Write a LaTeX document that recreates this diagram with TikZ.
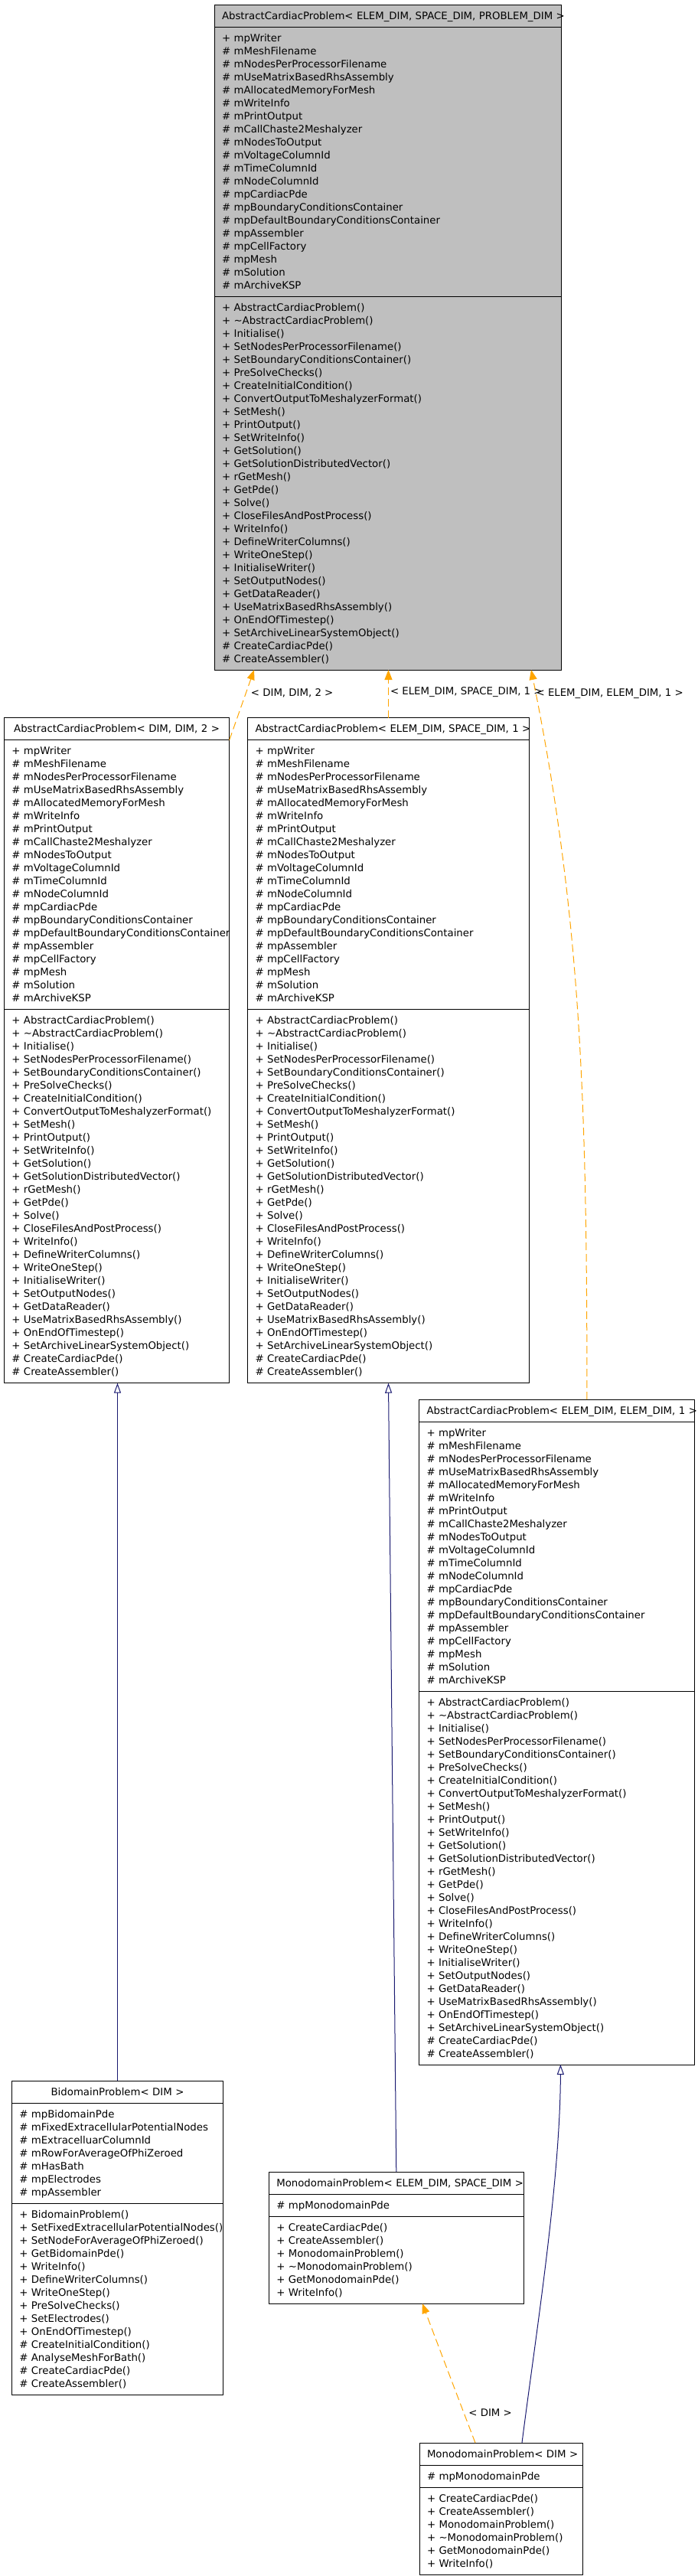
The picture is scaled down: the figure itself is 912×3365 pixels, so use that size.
\documentclass[tikz,border=0pt]{standalone}
\usepackage{fontspec}
\setmainfont{DejaVu Sans}
\usetikzlibrary{shapes.multipart, arrows.meta}

\definecolor{basegrey}{HTML}{BFBFBF}
\definecolor{tmplorange}{HTML}{FFA500}
\definecolor{inhnavy}{HTML}{191970}

\lefthyphenmin=62
\newcommand{\classfont}{\fontsize{13.3}{17}\selectfont}
\newcommand{\rowstrut}{\rule[-4pt]{0pt}{17pt}}
\newcommand{\classtitle}[1]{{\centering\rowstrut\mbox{#1}\par}}

% members shared by the four AbstractCardiacProblem boxes
\newcommand{\acpattrs}{\rowstrut+~mpWriter\\
\#~mMeshFilename\\
\#~mNodesPerProcessorFilename\\
\#~mUseMatrixBasedRhsAssembly\\
\#~mAllocatedMemoryForMesh\\
\#~mWriteInfo\\
\#~mPrintOutput\\
\#~mCallChaste2Meshalyzer\\
\#~mNodesToOutput\\
\#~mVoltageColumnId\\
\#~mTimeColumnId\\
\#~mNodeColumnId\\
\#~mpCardiacPde\\
\#~mpBoundaryConditionsContainer\\
\#~mpDefaultBoundaryConditionsContainer\\
\#~mpAssembler\\
\#~mpCellFactory\\
\#~mpMesh\\
\#~mSolution\\
\#~mArchiveKSP\rowstrut}
\newcommand{\acpops}{\rowstrut+~AbstractCardiacProblem()\\
+~\textasciitilde AbstractCardiacProblem()\\
+~Initialise()\\
+~SetNodesPerProcessorFilename()\\
+~SetBoundaryConditionsContainer()\\
+~PreSolveChecks()\\
+~CreateInitialCondition()\\
+~ConvertOutputToMeshalyzerFormat()\\
+~SetMesh()\\
+~PrintOutput()\\
+~SetWriteInfo()\\
+~GetSolution()\\
+~GetSolutionDistributedVector()\\
+~rGetMesh()\\
+~GetPde()\\
+~Solve()\\
+~CloseFilesAndPostProcess()\\
+~WriteInfo()\\
+~DefineWriterColumns()\\
+~WriteOneStep()\\
+~InitialiseWriter()\\
+~SetOutputNodes()\\
+~GetDataReader()\\
+~UseMatrixBasedRhsAssembly()\\
+~OnEndOfTimestep()\\
+~SetArchiveLinearSystemObject()\\
\#~CreateCardiacPde()\\
\#~CreateAssembler()\rowstrut}
% members shared by the two MonodomainProblem boxes
\newcommand{\monoattrs}{\rowstrut\#~mpMonodomainPde\rowstrut}
\newcommand{\monoops}{\rowstrut+~CreateCardiacPde()\\
+~CreateAssembler()\\
+~MonodomainProblem()\\
+~\textasciitilde MonodomainProblem()\\
+~GetMonodomainPde()\\
+~WriteInfo()\rowstrut}

\tikzset{
  classbox/.style={rectangle split, rectangle split parts=3, draw=black, line width=1pt,
    fill=white, inner xsep=10pt, inner ysep=5.5pt, outer sep=0pt, align=left,
    font=\classfont, anchor=north west},
  tmpl/.style={draw=tmplorange, line width=1pt, dash pattern=on 10pt off 5pt,
    -{Triangle[length=13pt,width=10pt]}},
  inherit/.style={draw=inhnavy, line width=1pt, -{Triangle[open,length=13pt,width=9pt]}},
  tmpllabel/.style={font=\classfont, anchor=west, inner sep=0pt, text=black}
}

\begin{document}
\begin{tikzpicture}[x=1pt, y=-1pt]
\useasboundingbox (0,0) rectangle (912,3365);

% classes
\node[classbox, fill=basegrey, text width=433pt] (acp) at (280,6)
  {\classtitle{AbstractCardiacProblem< ELEM\_DIM, SPACE\_DIM, PROBLEM\_DIM >}
   \nodepart{two}\acpattrs \nodepart{three}\acpops};
\node[classbox, text width=274.3pt] (acpDD2) at (5.4,937.7)
  {\classtitle{AbstractCardiacProblem< DIM, DIM, 2 >}
   \nodepart{two}\acpattrs \nodepart{three}\acpops};
\node[classbox, text width=348pt] (acpES1) at (323.5,937.7)
  {\classtitle{AbstractCardiacProblem< ELEM\_DIM, SPACE\_DIM, 1 >}
   \nodepart{two}\acpattrs \nodepart{three}\acpops};
\node[classbox, text width=339.8pt] (acpEE1) at (547.5,1828)
  {\classtitle{AbstractCardiacProblem< ELEM\_DIM, ELEM\_DIM, 1 >}
   \nodepart{two}\acpattrs \nodepart{three}\acpops};
\node[classbox, text width=256.4pt] (bidomain) at (15.3,2718)
  {\classtitle{BidomainProblem< DIM >}
   \nodepart{two}\rowstrut\#~mpBidomainPde\\
   \#~mFixedExtracellularPotentialNodes\\
   \#~mExtracelluarColumnId\\
   \#~mRowForAverageOfPhiZeroed\\
   \#~mHasBath\\
   \#~mpElectrodes\\
   \#~mpAssembler\rowstrut
   \nodepart{three}\rowstrut+~BidomainProblem()\\
   +~SetFixedExtracellularPotentialNodes()\\
   +~SetNodeForAverageOfPhiZeroed()\\
   +~GetBidomainPde()\\
   +~WriteInfo()\\
   +~DefineWriterColumns()\\
   +~WriteOneStep()\\
   +~PreSolveChecks()\\
   +~SetElectrodes()\\
   +~OnEndOfTimestep()\\
   \#~CreateInitialCondition()\\
   \#~AnalyseMeshForBath()\\
   \#~CreateCardiacPde()\\
   \#~CreateAssembler()\rowstrut};
\node[classbox, text width=313pt] (monoES) at (351.3,2837)
  {\classtitle{MonodomainProblem< ELEM\_DIM, SPACE\_DIM >}
   \nodepart{two}\monoattrs \nodepart{three}\monoops};
\node[classbox, text width=193pt] (monoD) at (548,3191)
  {\classtitle{MonodomainProblem< DIM >}
   \nodepart{two}\monoattrs \nodepart{three}\monoops};

% template instances
\draw[tmpl] (acpDD2.text split east) -- ([xshift=52pt]acp.south west)
  node[tmpllabel, pos=0.674, xshift=6pt] {< DIM, DIM, 2 >};
\draw[tmpl] (acpES1.north) -- (acpES1.north |- acp.south)
  node[tmpllabel, pos=0.53, xshift=2pt] {< ELEM\_DIM, SPACE\_DIM, 1 >};
\draw[tmpl] ([xshift=39.5pt]acpEE1.north) .. controls (767,1450) and (760,1200) .. ([xshift=187.5pt]acp.south)
  node[tmpllabel, pos=0.968] {< ELEM\_DIM, ELEM\_DIM, 1 >};
\draw[tmpl] ([xshift=-33.5pt]monoD.north) .. controls (598,3131) and (562,3036) .. ([xshift=34pt]monoES.south)
  node[tmpllabel, pos=0.2, xshift=6pt] {< DIM >};

% inheritance
\draw[inherit] (bidomain.north) -- (bidomain.north |- acpDD2.south);
\draw[inherit] (monoES.north) -- (acpES1.south);
\draw[inherit] ([xshift=27.5pt]monoD.north) .. controls (700,3050) and (732,2850) .. ([xshift=5pt]acpEE1.south);

\end{tikzpicture}
\end{document}
